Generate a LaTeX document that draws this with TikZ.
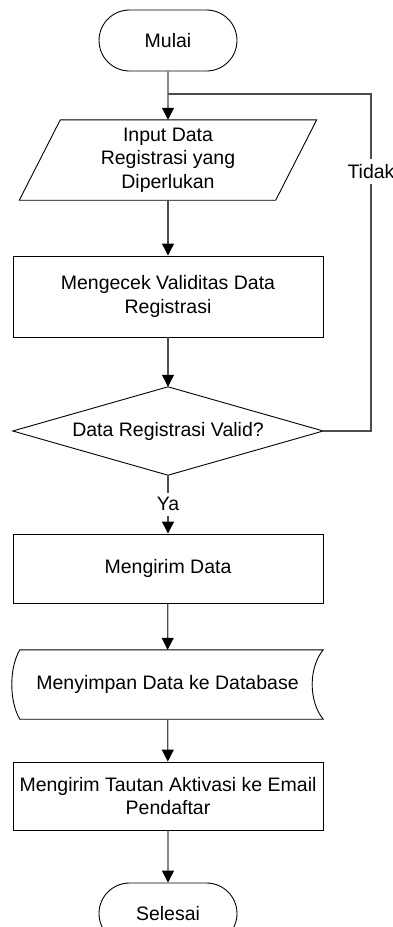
\documentclass[tikz,border=0pt]{standalone}
\usepackage{fontspec}
\setmainfont{Liberation Sans}
\usetikzlibrary{arrows.meta,shapes.misc}
\begin{document}
\begin{tikzpicture}[x=1pt,y=-1pt,
  every node/.style={font=\fontsize{19.5}{23.5}\selectfont, align=center, inner sep=0pt},
  shapeline/.style={draw=black, line width=0.9pt},
  termbox/.style={shapeline, rounded rectangle, minimum width=138pt, minimum height=61pt},
  procbox/.style={shapeline, rectangle, minimum width=310pt},
  flow/.style={draw=black!70, line width=1.2pt},
  flowarrow/.style={flow, -{Triangle[length=12pt,width=12pt,color=black]}},
  tag/.style={fill=white, inner xsep=2pt, inner ysep=5pt}
]
\useasboundingbox (0,0) rectangle (393,927);

% start terminal
\node[termbox] (start) at (168,40.5) {Mulai};

% input (parallelogram drawn around a plain node)
\node[minimum width=297pt, minimum height=80pt] (inp) at (168,160)
  {Input Data\\Registrasi yang\\Diperlukan};
\draw[shapeline] ([xshift=41pt]inp.north west) -- (inp.north east)
  -- ([xshift=-41pt]inp.south east) -- (inp.south west) -- cycle;

% validity check
\node[procbox, minimum height=81pt] (cek) at (168,296.5)
  {Mengecek Validitas Data\\Registrasi};

% decision (diamond drawn on the node's anchors)
\node[minimum width=310pt, minimum height=88pt] (dec) at (168,431)
  {Data Registrasi Valid?};
\draw[shapeline] (dec.north) -- (dec.east) -- (dec.south) -- (dec.west) -- cycle;

% send data
\node[procbox, minimum height=69pt] (send) at (168,568.5) {Mengirim Data};

% stored data
\node[minimum width=311pt, minimum height=69pt] (store) at (167.5,684.5)
  {Menyimpan Data ke Database};
\draw[shapeline] ([xshift=8pt]store.north west) -- (store.north east)
  .. controls ([xshift=-14.7pt,yshift=-18pt]store.north east)
         and ([xshift=-14.7pt,yshift=18pt]store.south east) .. (store.south east)
  -- ([xshift=8pt]store.south west)
  .. controls ([xshift=-2.7pt,yshift=18pt]store.south west)
         and ([xshift=-2.7pt,yshift=-18pt]store.north west) .. cycle;

% activation link
\node[procbox, minimum height=68pt] (link) at (168,796)
  {Mengirim Tautan Aktivasi ke Email\\Pendaftar};

% end terminal
\node[termbox] (stop) at (168,913.5) {Selesai};

% main flow
\draw[flowarrow] (start) -- (inp);
\draw[flowarrow] (inp) -- (cek);
\draw[flowarrow] (cek) -- (dec);
\draw[flowarrow] (dec) -- node[tag] {Ya} (send);
\draw[flowarrow] (send) -- (store);
\draw[flowarrow] (store) -- (link);
\draw[flowarrow] (link) -- (stop);

% loop back when data is not valid
\coordinate (joint) at (168,94);
\coordinate (corner) at (371,94);
\draw[flow] (dec.east) -- (dec.east -| corner)
  -- node[tag, pos=0.77] {Tidak} (corner) -- (joint);
\end{tikzpicture}
\end{document}
